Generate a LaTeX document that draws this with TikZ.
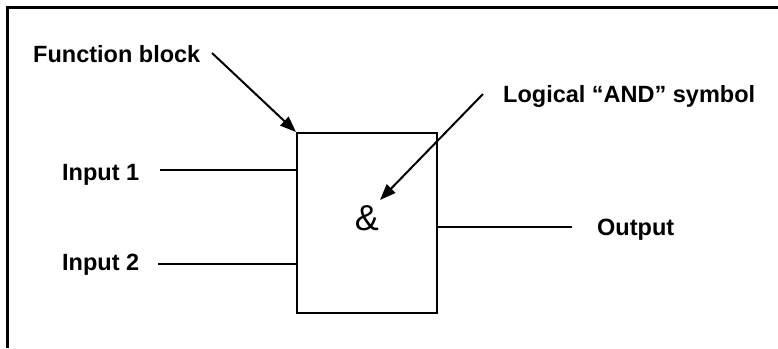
\documentclass[tikz,border=0pt]{standalone}
\usepackage{fontspec}
\setmainfont{Liberation Sans}
\usetikzlibrary{arrows.meta}
\begin{document}
\begin{tikzpicture}[x=1pt,y=-1pt,
  lbl/.style={font=\fontsize{23.5}{27}\selectfont\bfseries, inner sep=0pt, anchor=base west},
  wire/.style={line width=2pt},
  pointer/.style={line width=2pt, -{Triangle[length=16pt,width=12pt]}},
  fblock/.style={draw, line width=2pt, minimum width=140pt, minimum height=180pt, inner sep=0pt}]
\useasboundingbox (0,0) rectangle (778,348);
\draw[line width=3pt] (7,348) -- (7,7) -- (778,7);
\node[fblock] (box) at (367,223) {};
\node[inner sep=0pt, font=\fontsize{36}{40}\selectfont] (amp) at (367,218.5) {\&};
\node[lbl] (fb) at (33,62) {Function block};
\node[lbl] (and) at (503,102) {Logical “AND” symbol};
\node[lbl] (in1) at (62,180) {Input 1};
\node[lbl] (in2) at (62,270) {Input 2};
\node[lbl] (out) at (597,235) {Output};
\coordinate (fbt) at (212,53);
\coordinate (andt) at (483,94);
\coordinate (amph) at (380,200);
\coordinate (i1) at (160,170);
\coordinate (i2) at (158,264);
\coordinate (o1) at (572,227);
\draw[wire] (i1) -- (box.west |- i1);
\draw[wire] (i2) -- (box.west |- i2);
\draw[wire] (box.east |- o1) -- (o1);
\draw[pointer] (fbt) -- (box.north west);
\draw[pointer] (andt) -- (amph);
\end{tikzpicture}
\end{document}
